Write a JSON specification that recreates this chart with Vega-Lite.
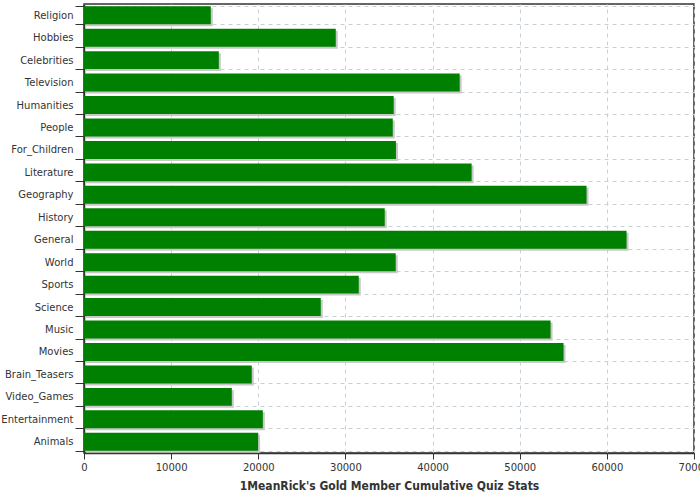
{
  "$schema": "https://vega.github.io/schema/vega-lite/v6.json",
  "width": 610,
  "height": 449,
  "autosize": {"type": "none"},
  "padding": {"left": 84, "top": 4, "right": 6, "bottom": 47},
  "background": "white",
  "config": {
    "view": {"stroke": "#333333", "strokeWidth": 1.5},
    "font": "DejaVu Sans"
  },
  "data": {
    "values": [
      {"category": "Religion", "value": 14550},
      {"category": "Hobbies", "value": 28890},
      {"category": "Celebrities", "value": 15470},
      {"category": "Television", "value": 43110},
      {"category": "Humanities", "value": 35540},
      {"category": "People", "value": 35430},
      {"category": "For_Children", "value": 35800},
      {"category": "Literature", "value": 44480},
      {"category": "Geography", "value": 57670},
      {"category": "History", "value": 34510},
      {"category": "General", "value": 62260},
      {"category": "World", "value": 35770},
      {"category": "Sports", "value": 31530},
      {"category": "Science", "value": 27170},
      {"category": "Music", "value": 53540},
      {"category": "Movies", "value": 55030},
      {"category": "Brain_Teasers", "value": 19250},
      {"category": "Video_Games", "value": 16960},
      {"category": "Entertainment", "value": 20520},
      {"category": "Animals", "value": 19980}
    ]
  },
  "encoding": {
    "y": {
      "field": "category",
      "type": "nominal",
      "sort": null,
      "scale": {"paddingInner": 0.2, "paddingOuter": 0.1},
      "axis": {
        "title": null,
        "tickBand": "extent",
        "grid": true,
        "gridColor": "#c8d0d6",
        "gridDash": [4, 4],
        "gridWidth": 1,
        "domainColor": "#333333",
        "domainWidth": 1.5,
        "tickColor": "#333333",
        "tickSize": 9,
        "labelPadding": 2,
        "labelFontSize": 10,
        "labelColor": "#333333",
        "labelFont": "DejaVu Sans"
      }
    },
    "x": {
      "field": "value",
      "type": "quantitative",
      "scale": {"domain": [0, 70000], "nice": false},
      "axis": {
        "title": "1MeanRick's Gold Member Cumulative Quiz Stats",
        "titleFont": "DejaVu Sans Condensed",
        "titleFontSize": 12,
        "titleFontWeight": "bold",
        "titleColor": "#333333",
        "titlePadding": 8,
        "values": [0, 10000, 20000, 30000, 40000, 50000, 60000, 70000],
        "format": "d",
        "grid": true,
        "gridColor": "#c8d0d6",
        "gridDash": [4, 4],
        "gridWidth": 1,
        "domainColor": "#333333",
        "domainWidth": 1.5,
        "tickColor": "#333333",
        "tickSize": 6,
        "labelPadding": 3,
        "labelFontSize": 10,
        "labelColor": "#333333",
        "labelFont": "DejaVu Sans",
        "labelFlush": false,
        "labelOverlap": false
      }
    }
  },
  "layer": [
    {"mark": {"type": "bar", "color": "#c8c8c8", "xOffset": 2, "yOffset": 2}},
    {"mark": {"type": "bar", "color": "#008000"}}
  ]
}
